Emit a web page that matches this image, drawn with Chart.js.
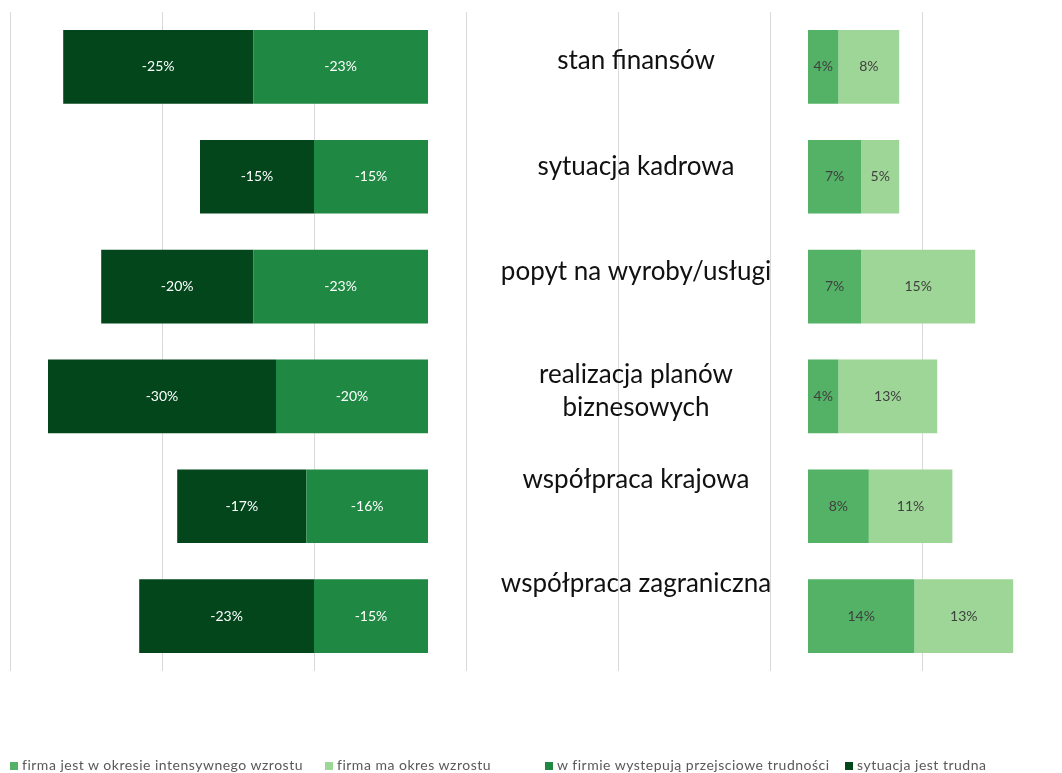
<!DOCTYPE html>
<html>
<head>
<meta charset="utf-8">
<script src="https://cdn.jsdelivr.net/npm/chart.js@4/dist/chart.umd.min.js"></script>
<style>
    html, body { margin: 0; padding: 0; background: #fff; }
    #wrap { position: relative; width: 1062px; height: 773px; }
    #legenda { position: absolute; left: 0; top: 756px; width: 1062px; height: 18px;
               font-family: Lato, "Open Sans", sans-serif; font-size: 14px; letter-spacing: 0.5px; color: #595959; }
    .leg-item { position: absolute; top: 0; white-space: nowrap; line-height: 18px; }
    .leg-box { display: inline-block; width: 8px; height: 8px; margin-right: 4px; vertical-align: 0px; }
</style>
</head>
<body>
<div id="wrap">
    <canvas id="grafico" width="1062" height="773"></canvas>
    <div id="legenda"></div>
</div>
<script>
const kategorie = [
    ["stan finansów"],
    ["sytuacja kadrowa"],
    ["popyt na wyroby/usługi"],
    ["realizacja planów", "biznesowych"],
    ["współpraca krajowa"],
    ["współpraca zagraniczna"],
];
const intensywnyWzrost = [4, 7, 7, 4, 8, 14];
const okresWzrostu     = [8, 5, 15, 13, 11, 13];
const przejscioweTrud  = [-23, -15, -23, -20, -16, -15];
const sytuacjaTrudna   = [-25, -15, -20, -30, -17, -23];
const ticksSiatki      = [-55, -35, -15, 5, 25, 45, 65];

const COR = {
    intensywny: "#53b265",
    wzrost:     "#9dd696",
    przejsc:    "#1f8843",
    trudna:     "#03461c",
};

// ── etykiety kategorii (środek wykresu) ──
const przesuniecieEtykiet = [-6, -10, -15, -5, -27, -32];
const pluginKategorie = {
    id: "kategorie",
    afterDatasetsDraw(chart) {
        const ctx = chart.ctx;
        const y = chart.scales.y;
        ctx.save();
        ctx.font = "26px Lato, 'Open Sans', sans-serif";
        ctx.fillStyle = "#111";
        ctx.textAlign = "center";
        ctx.textBaseline = "middle";
        kategorie.forEach((linie, i) => {
            const cy = y.getPixelForValue(i) + przesuniecieEtykiet[i];
            linie.forEach((t, k) => {
                ctx.fillText(t, 636, cy + (k - (linie.length - 1) / 2) * 33);
            });
        });
        ctx.restore();
    }
};

// ── wartości na słupkach ──
const pluginWartosci = {
    id: "wartosci",
    afterDatasetsDraw(chart) {
        const ctx = chart.ctx;
        ctx.save();
        ctx.font = "14px Lato, 'Open Sans', sans-serif";
        ctx.textAlign = "center";
        ctx.textBaseline = "middle";
        chart.data.datasets.forEach((ds, di) => {
            const meta = chart.getDatasetMeta(di);
            ctx.fillStyle = ds.corEtykiety;
            meta.data.forEach((bar, i) => {
                const p = bar.getCenterPoint();
                ctx.fillText(ds.data[i] + "%", p.x, p.y);
            });
        });
        ctx.restore();
    }
};

const grafico = new Chart(document.getElementById("grafico"), {
    type: "bar",
    data: {
        labels: kategorie.map(l => l.join(" ")),
        datasets: [
            { label: "firma jest w okresie intensywnego wzrostu", data: intensywnyWzrost, xAxisID: "x2",
              backgroundColor: COR.intensywny, corEtykiety: "#404040" },
            { label: "firma ma okres wzrostu", data: okresWzrostu, xAxisID: "x2",
              backgroundColor: COR.wzrost, corEtykiety: "#404040" },
            { label: "w firmie wystepują przejsciowe trudności", data: przejscioweTrud, xAxisID: "x",
              backgroundColor: COR.przejsc, corEtykiety: "#ffffff" },
            { label: "sytuacja jest trudna", data: sytuacjaTrudna, xAxisID: "x",
              backgroundColor: COR.trudna, corEtykiety: "#ffffff" },
        ]
    },
    options: {
        indexAxis: "y",
        responsive: false,
        animation: false,
        layout: { padding: { left: 10, right: 26, top: 12, bottom: 102 } },
        datasets: { bar: { categoryPercentage: 1, barPercentage: 0.67 } },
        plugins: {
            legend: { display: false },
            tooltip: { enabled: false }
        },
        scales: {
            x: {
                stacked: true, min: -55, max: 80,
                afterBuildTicks: s => { s.ticks = ticksSiatki.map(v => ({ value: v })); },
                ticks: { display: false },
                grid: { color: "#d9d9d9", drawTicks: false },
                border: { display: false }
            },
            x2: {
                stacked: true, min: -105, max: 30, display: false
            },
            y: {
                stacked: true, display: false
            }
        }
    },
    plugins: [pluginWartosci, pluginKategorie]
});

// ── legenda ──
const pozycjeLegendy = [10, 325, 545, 845];
const legenda = document.getElementById("legenda");
grafico.data.datasets.forEach((ds, i) => {
    const el = document.createElement("div");
    el.className = "leg-item";
    el.style.left = pozycjeLegendy[i] + "px";
    el.innerHTML = `<span class="leg-box" style="background:${ds.backgroundColor}"></span>${ds.label}`;
    legenda.appendChild(el);
});
</script>
</body>
</html>
